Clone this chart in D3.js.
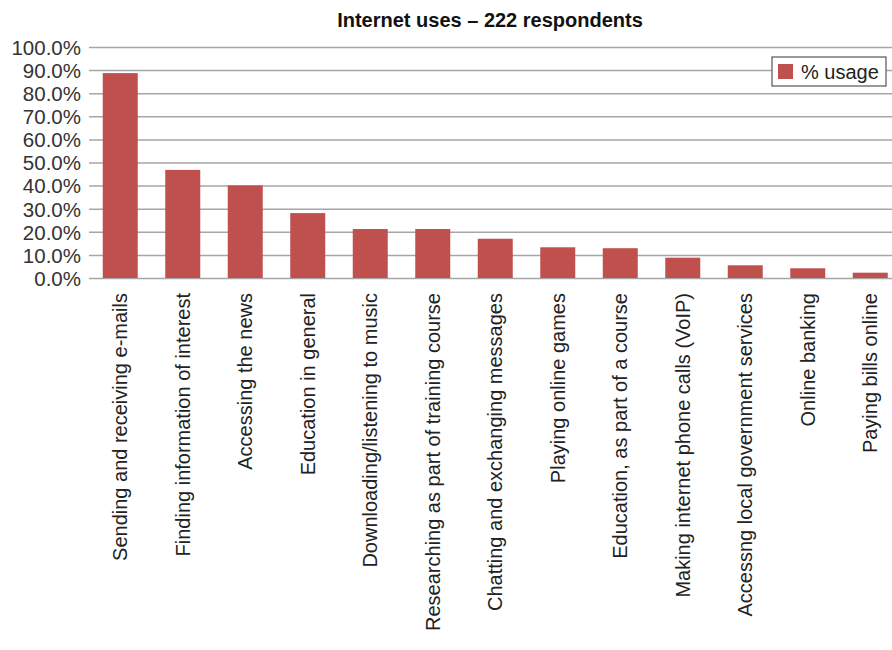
<!DOCTYPE html>
<meta charset="utf-8">
<title>Internet uses</title>
<style>
  body { margin: 0; background: #fff; }
  svg { font-family: "Liberation Sans", Arial, sans-serif; }
  .grid line { stroke: #a6a6a6; stroke-width: 1.5px; }
  .grid .domain { display: none; }
  .y-axis text { font-size: 20.5px; fill: #333; }
  .x-label { font-size: 20px; fill: #222; }
  .bar { fill: #c0504d; }
  .title { font-size: 20px; font-weight: bold; fill: #111; }
</style>
<svg width="892" height="650"></svg>
<script src="https://d3js.org/d3.v7.min.js"></script>
<script>
var categories = [
  "Sending and receiving e-mails",
  "Finding information of interest",
  "Accessing the news",
  "Education in general",
  "Downloading/listening to music",
  "Researching as part of training course",
  "Chatting and exchanging messages",
  "Playing online games",
  "Education, as part of a course",
  "Making internet phone calls (VoIP)",
  "Accessng local government services",
  "Online banking",
  "Paying bills online"
];
var usage = [0.887, 0.468, 0.401, 0.281, 0.212, 0.212, 0.170, 0.133, 0.129, 0.088, 0.055, 0.042, 0.023];
var yTicks = [0, 0.1, 0.2, 0.3, 0.4, 0.5, 0.6, 0.7, 0.8, 0.9, 1.0];

var svg = d3.select("svg");

var x = d3.scaleBand()
  .domain(categories)
  .range([89, 901.5])
  .paddingInner(0.44)
  .paddingOuter(0.22);

var y = d3.scaleLinear()
  .domain([0, 1])
  .range([278, 47]);

// gridlines
svg.append("g")
  .attr("class", "grid")
  .attr("transform", "translate(89,0)")
  .call(d3.axisRight(y).tickValues(yTicks).tickSize(810).tickFormat(""));

// y labels
svg.append("g")
  .attr("class", "y-axis")
  .attr("transform", "translate(81,0)")
  .call(d3.axisLeft(y).tickValues(yTicks).tickSize(0).tickPadding(0).tickFormat(d3.format(".1%")))
  .call(g => g.select(".domain").remove())
  .selectAll("text").attr("dy", "0.36em");

svg.selectAll(".bar")
  .data(usage)
  .enter().append("rect")
  .attr("class", "bar")
  .attr("x", (d, i) => x(categories[i]))
  .attr("width", x.bandwidth())
  .attr("y", d => y(d))
  .attr("height", d => y(0) - y(d));

svg.selectAll(".x-label")
  .data(categories)
  .enter().append("text")
  .attr("class", "x-label")
  .attr("transform", d => "translate(" + (x(d) + x.bandwidth() / 2 + 7) + ",293) rotate(-90)")
  .attr("text-anchor", "end")
  .text(d => d);

svg.append("text")
  .attr("class", "title")
  .attr("x", 490)
  .attr("y", 27)
  .attr("text-anchor", "middle")
  .text("Internet uses \u2013 222 respondents");

// legend
var legend = svg.append("g").attr("transform", "translate(772,57)");
legend.append("rect")
  .attr("width", 114).attr("height", 29)
  .attr("fill", "#fff").attr("stroke", "#555").attr("stroke-width", 1.2);
legend.append("rect")
  .attr("class", "bar")
  .attr("x", 6).attr("y", 7).attr("width", 15).attr("height", 15);
legend.append("text")
  .attr("x", 29).attr("y", 22)
  .attr("font-size", 20).attr("fill", "#222")
  .text("% usage");
</script>
